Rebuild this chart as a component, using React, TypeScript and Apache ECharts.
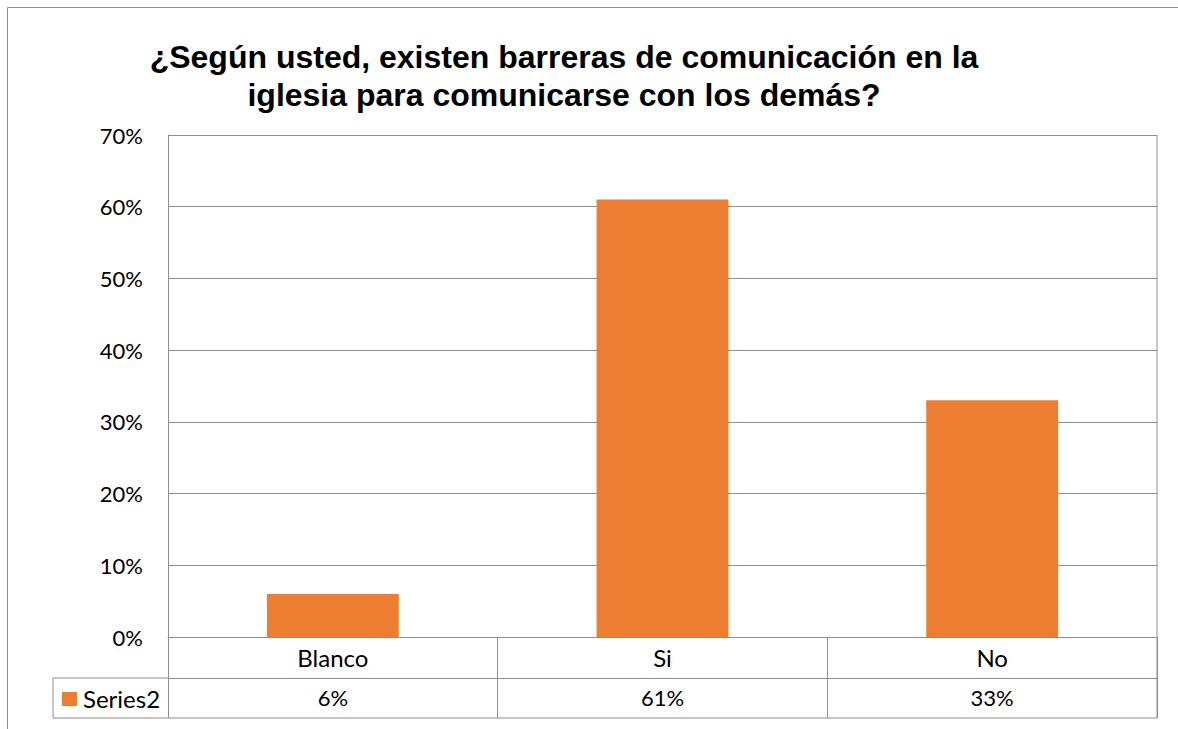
import React, { useEffect, useRef } from "react";
import * as echarts from "echarts";

const categories = ["Blanco", "Si", "No"];
const seriesName = "Series2";
const values = [0.06, 0.61, 0.33];
const titleLines = [
  "¿Según usted, existen barreras de comunicación en la",
  "iglesia para comunicarse con los demás?",
];

const W = 1178;
const H = 729;
const GL = 168;
const GR = 1157;
const GT = 135;
const GB = 637;
const ROW1 = 678;
const ROW2 = 718;
const LEGL = 53;
const LINE = "#8f8f8f";
const BAR = "#ED7D31";
const FONT = "Lato, 'Open Sans', sans-serif";

const pct = (v: number) => `${Math.round(v * 100)}%`;

export default function App() {
  const ref = useRef<HTMLDivElement>(null);
  useEffect(() => {
    if (!ref.current) return;
    const chart = echarts.init(ref.current, undefined, { renderer: "svg" });
    chart.setOption({
      animation: false,
      backgroundColor: "#fff",
      title: {
        text: titleLines.join("\n"),
        left: 559,
        top: 33,
        textAlign: "center",
        textStyle: {
          fontFamily: "'Liberation Sans', Arial, sans-serif",
          fontWeight: "bold",
          fontSize: 32,
          lineHeight: 38,
          color: "#000",
        },
      },
      grid: { left: GL, right: W - GR, top: GT, bottom: H - GB },
      xAxis: [
        {
          type: "category",
          data: categories,
          position: "bottom",
          axisLine: { show: true, lineStyle: { color: LINE, width: 1 } },
          axisTick: { show: true, length: ROW2 - GB, lineStyle: { color: LINE, width: 1 } },
          axisLabel: { margin: 8, fontFamily: FONT, fontSize: 24, color: "#000" },
        },
        {
          type: "category",
          data: values.map(pct),
          position: "bottom",
          offset: ROW1 - GB,
          axisLine: { show: true, lineStyle: { color: LINE, width: 1 } },
          axisTick: { show: false },
          axisLabel: { margin: 8, fontFamily: FONT, fontSize: 22, color: "#000" },
        },
      ],
      yAxis: {
        type: "value",
        min: 0,
        max: 0.7,
        interval: 0.1,
        axisLine: { show: true, lineStyle: { color: LINE, width: 1 } },
        axisTick: { show: false },
        splitLine: { show: true, lineStyle: { color: LINE, width: 1 } },
        axisLabel: {
          margin: 25,
          fontFamily: FONT,
          fontSize: 22,
          color: "#000",
          formatter: (v: number) => pct(v),
        },
      },
      series: [
        {
          type: "bar",
          name: seriesName,
          data: values,
          barWidth: "40%",
          itemStyle: { color: BAR },
        },
      ],
      graphic: [
        {
          type: "rect",
          shape: { x: 7.5, y: 7.5, width: W + 10, height: H + 10 },
          style: { fill: "none", stroke: LINE, lineWidth: 1 },
          silent: true,
        },
        {
          type: "line",
          shape: { x1: GR, y1: GT, x2: GR, y2: ROW2 },
          style: { stroke: LINE, lineWidth: 1 },
        },
        {
          type: "line",
          shape: { x1: GL, y1: ROW2, x2: GR, y2: ROW2 },
          style: { stroke: LINE, lineWidth: 1 },
        },
        {
          type: "polyline",
          shape: {
            points: [
              [GL, ROW1],
              [LEGL, ROW1],
              [LEGL, ROW2],
              [GL, ROW2],
            ],
          },
          style: { stroke: LINE, lineWidth: 1, fill: "none" },
        },
        {
          type: "rect",
          shape: { x: 62, y: 692, width: 15, height: 14 },
          style: { fill: BAR },
        },
        {
          type: "text",
          x: 83,
          y: 698,
          style: {
            text: seriesName,
            fontFamily: FONT,
            fontSize: 24,
            fill: "#000",
            verticalAlign: "middle",
          },
        },
      ],
    });
    return () => chart.dispose();
  }, []);
  return (
    <div
      ref={ref}
      style={{ position: "absolute", left: 0, top: 0, width: W, height: H }}
    />
  );
}
